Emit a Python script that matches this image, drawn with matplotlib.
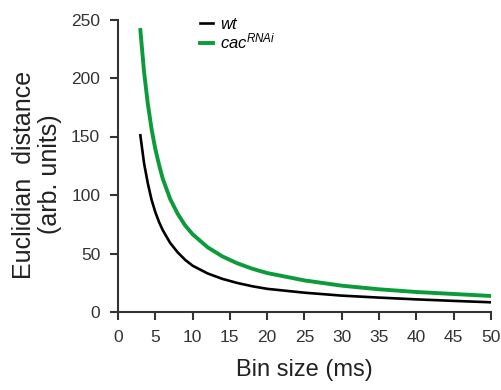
import numpy as np
import matplotlib
matplotlib.use("Agg")
import matplotlib.pyplot as plt

plt.rcParams['font.family'] = ['Liberation Sans', 'DejaVu Sans']
plt.rcParams['mathtext.fontset'] = 'custom'
plt.rcParams['mathtext.it'] = 'Liberation Sans:italic'
plt.rcParams['mathtext.rm'] = 'Liberation Sans'

# Euclidian distance between spike trains as a function of bin size
bin_size = [3, 3.5, 4, 4.5, 5, 5.5, 6, 7, 8, 9, 10, 12, 14, 16, 18, 20,
            25, 30, 35, 40, 45, 50]
dist_wt = [151, 127, 110, 96, 85.5, 77, 70, 59, 51, 44.6, 39.6, 33, 28.3, 24.8,
           22, 19.8, 16.5, 14, 12.3, 10.8, 9.5, 8.3]
dist_cac = [241, 205, 178, 156.5, 139.5, 126, 114, 96.5, 84, 74, 66.5, 55.4,
            47.5, 41.6, 37, 33.3, 27, 22.5, 19.4, 17.1, 15.4, 13.7]

axis_col = '#333333'

fig = plt.figure(figsize=(5.02, 3.9), dpi=100)
ax = fig.add_axes([0.235, 0.2, 0.743, 0.75])

ax.plot(bin_size, dist_wt, color='black', lw=1.9, label='wt')
ax.plot(bin_size, dist_cac, color='#0b9b3b', lw=2.8, label='cac$^{RNAi}$')

ax.set_xlim(0, 50)
ax.set_ylim(0, 250)
ax.set_xticks(np.arange(0, 51, 5))
ax.set_yticks(np.arange(0, 251, 50))

for side in ['top', 'right']:
    ax.spines[side].set_visible(False)
for side in ['left', 'bottom']:
    ax.spines[side].set_color(axis_col)
    ax.spines[side].set_linewidth(1.5)
ax.tick_params(direction='out', length=5.8, width=1.5, color=axis_col,
               labelsize=12.5, labelcolor=axis_col, pad=7)

ax.set_xlabel('Bin size (ms)', fontsize=17, labelpad=10, color='#222222')
ax.set_ylabel('Euclidian  distance\n(arb. units)', fontsize=18,
              linespacing=1.1, color='#222222')
ax.yaxis.set_label_coords(-0.15, 0.47)

leg = ax.legend(loc='upper left', bbox_to_anchor=(0.18, 1.06), frameon=False,
                handlelength=0.75, handletextpad=0.45, labelspacing=0.0,
                prop={'style': 'italic', 'size': 12})

fig.savefig('out.png', dpi=100)
